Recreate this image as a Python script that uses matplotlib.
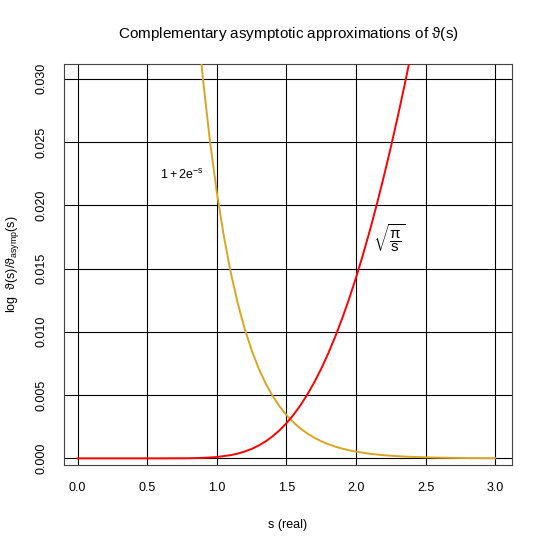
import matplotlib
matplotlib.use("Agg")
import matplotlib.pyplot as plt

plt.rcParams['font.family'] = ['Liberation Sans', 'DejaVu Sans']
plt.rcParams['mathtext.fontset'] = 'custom'
plt.rcParams['mathtext.rm'] = 'Liberation Sans'
plt.rcParams['mathtext.it'] = 'Liberation Sans'
plt.rcParams['mathtext.default'] = 'regular'

# values
s_large = [0.85, 0.90, 0.95, 1.00, 1.05, 1.10, 1.15, 1.20, 1.25, 1.30, 1.35,
           1.40, 1.45, 1.50, 1.55, 1.60, 1.65, 1.70, 1.75, 1.80, 1.85, 1.90,
           1.95, 2.00, 2.10, 2.20, 2.30, 2.40, 2.50, 2.60, 2.70, 2.80, 2.90,
           3.00]
log_ratio_large = [0.035848, 0.030020, 0.025128, 0.021023, 0.017581, 0.014692,
                   0.012272, 0.010245, 0.008547, 0.007126, 0.005938, 0.004945,
                   0.004116, 0.003424, 0.002845, 0.002365, 0.001964, 0.001630,
                   0.001353, 0.001122, 0.000930, 0.000770, 0.000638, 0.000528,
                   0.000361, 0.000247, 0.000168, 0.000115, 0.000078, 0.000053,
                   0.000036, 0.000024, 0.000017, 0.000011]

s_small = [0.0, 0.6, 0.8, 0.9, 1.0, 1.1, 1.15, 1.2, 1.25, 1.3, 1.35, 1.4,
           1.45, 1.5, 1.55, 1.6, 1.65, 1.7, 1.75, 1.8, 1.85, 1.9, 1.95, 2.0,
           2.05, 2.1, 2.15, 2.2, 2.25, 2.3, 2.35, 2.4]
log_ratio_small = [0.0, 0.0, 0.0000088, 0.0000346, 0.0001034, 0.0002537,
                   0.0003748, 0.0005358, 0.0007444, 0.0010085, 0.0013356,
                   0.0017339, 0.0022105, 0.0027733, 0.0034271, 0.0041808,
                   0.0050371, 0.006003, 0.0070823, 0.008279, 0.0095944,
                   0.011033, 0.0125946, 0.014281, 0.016093, 0.018029,
                   0.020094, 0.022280, 0.024584, 0.027012, 0.029556, 0.032214]

x_ticks = [0.0, 0.5, 1.0, 1.5, 2.0, 2.5, 3.0]
y_ticks = [0.000, 0.005, 0.010, 0.015, 0.020, 0.025, 0.030]

fig = plt.figure(figsize=(5.45, 5.45), dpi=100)
ax = fig.add_axes([63.7/545, 1-465.3/545, (512.3-63.7)/545, (465.3-64)/545])

for x in x_ticks:
    ax.axvline(x, color='black', lw=0.8, zorder=1)
for y in y_ticks:
    ax.axhline(y, color='black', lw=0.8, zorder=1)

ax.plot(s_large, log_ratio_large, color='goldenrod', lw=1.4, zorder=3)
ax.plot(s_small, log_ratio_small, color='red', lw=1.4, zorder=3)

ax.text(0.75, 0.02238, r'$1+2e^{-s}$', ha='center', va='center', fontsize=9)
ax.text(2.24, 0.0174, r'$\sqrt{\dfrac{\pi}{s}}$', ha='center', va='center', fontsize=11)

ax.set_xlim(-0.10, 3.1227)
ax.set_ylim(-0.00055, 0.03116)
ax.set_xticks(x_ticks)
ax.set_xticklabels(['0.0', '0.5', '1.0', '1.5', '2.0', '2.5', '3.0'])
ax.set_yticks(y_ticks)
ax.set_yticklabels(['0.000', '0.005', '0.010', '0.015', '0.020', '0.025', '0.030'],
                   rotation=90, va='center')
ax.tick_params(length=0, labelsize=9, pad=12)
for sp in ax.spines.values():
    sp.set_color('#444444')
    sp.set_linewidth(0.8)

ax.set_title(r'Complementary asymptotic approximations of $\vartheta$(s)',
             fontsize=11, pad=19)
ax.set_xlabel('s (real)', fontsize=9, labelpad=18)
ax.set_ylabel(r'log  $\vartheta(s)/\vartheta_{asymp}(s)$', fontsize=9, labelpad=10)

fig.savefig('out.png', dpi=100)
